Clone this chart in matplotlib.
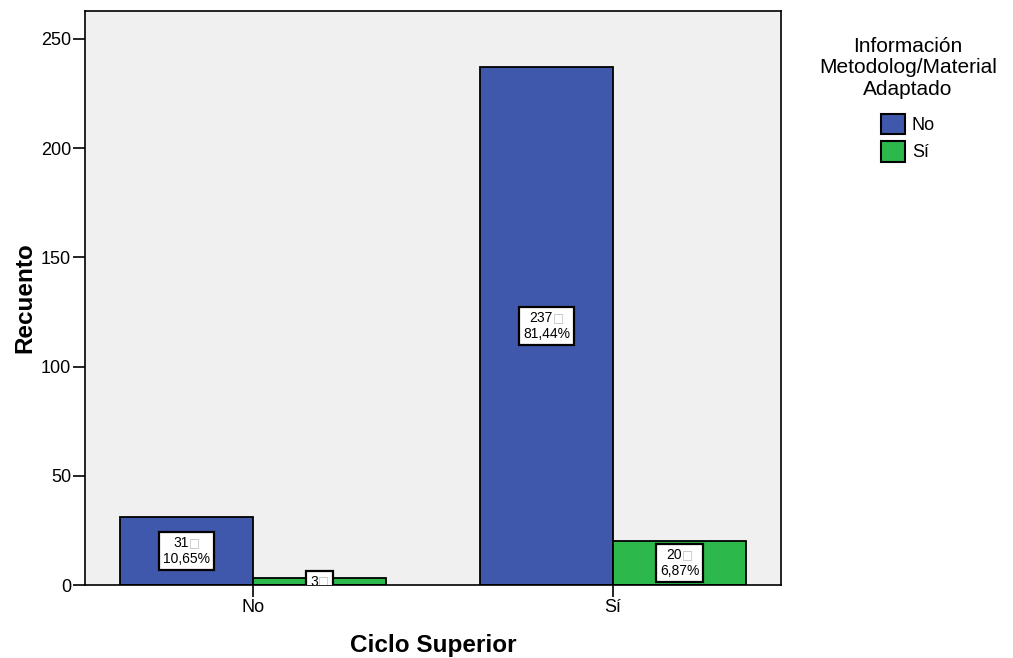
import matplotlib
matplotlib.use("Agg")
import matplotlib.pyplot as plt
from matplotlib.patches import Patch
from matplotlib.offsetbox import AnnotationBbox, TextArea, HPacker, VPacker
import numpy as np

plt.rcParams['font.family'] = ['Liberation Sans', 'DejaVu Sans']

categories = ["No", "Sí"]
series_names = ["No", "Sí"]
counts_no = [31, 237]
counts_si = [3, 20]
pct_no = ["10,65%", "81,44%"]
pct_si = ["", "6,87%"]
yticks = [0, 50, 100, 150, 200, 250]

colors = ["#3F58AB", "#2DB84B"]

fig = plt.figure(figsize=(10.13, 6.58), dpi=100)
ax = fig.add_axes([85 / 1013, 1 - 585 / 658, (781 - 85) / 1013, (585 - 11) / 658])
ax.set_facecolor("#F0F0F0")

x = np.arange(len(categories))
w = 0.37
bars_no = ax.bar(x - w / 2, counts_no, w, color=colors[0], edgecolor="black", linewidth=1.3)
bars_si = ax.bar(x + w / 2, counts_si, w, color=colors[1], edgecolor="black", linewidth=1.3)

ax.set_xlim(-0.4667, 1.4667)
ax.set_ylim(0, 262.8)
ax.set_xticks(x)
ax.set_xticklabels(categories, fontsize=13)
ax.set_yticks(yticks)
ax.set_yticklabels([str(t) for t in yticks], fontsize=13)
ax.tick_params(axis="both", direction="out", length=8.5, width=1.2, color="black", pad=1.5)
for s in ax.spines.values():
    s.set_linewidth(1.2)

ax.set_ylabel("Recuento", fontsize=17.5, fontweight="bold", labelpad=3)
ax.set_xlabel("Ciclo Superior", fontsize=17.5, fontweight="bold", labelpad=13)


def label(bar, count, pct):
    cx = bar.get_x() + bar.get_width() / 2
    cy = bar.get_height() / 2
    num = TextArea(str(count), textprops=dict(fontsize=10, color="black"))
    sq = TextArea("\u25a1", textprops=dict(fontsize=8.5, color="#BBBBBB",
                                          family=["DejaVu Sans"]))
    row = HPacker(children=[num, sq], pad=0, sep=0, align="center")
    rows = [row]
    if pct:
        rows.append(TextArea(pct, textprops=dict(fontsize=10, color="black")))
    content = VPacker(children=rows, pad=0, sep=1, align="center")
    ab = AnnotationBbox(content, (cx, cy), xycoords="data", box_alignment=(0.5, 0.5),
                        frameon=True, pad=0.3,
                        bboxprops=dict(facecolor="white", edgecolor="black",
                                       linewidth=1.6),
                        zorder=5)
    ax.add_artist(ab)
    ab.patch.set_clip_path(ax.patch)
    for child in (num, sq) + tuple(rows[1:]):
        child._text.set_clip_path(ax.patch)
    return ab


for b, c, p in zip(bars_no, counts_no, pct_no):
    label(b, c, p)
for b, c, p in zip(bars_si, counts_si, pct_si):
    label(b, c, p)

handles = [Patch(facecolor=colors[i], edgecolor="black", linewidth=1.5) for i in range(2)]
leg = fig.legend(handles, series_names, title="Información\nMetodolog/Material\nAdaptado",
                 loc="upper center", bbox_to_anchor=(908 / 1013, 1 - 28 / 658),
                 frameon=False, fontsize=13, title_fontsize=15, borderpad=0,
                 handlelength=1.3, handleheight=1.35, handletextpad=0.4,
                 labelspacing=0.4)
leg.get_title().set_multialignment("center")
leg.get_title().set_linespacing(1.15)
leg._legend_box.align = "center"
leg._legend_box.sep = 11

fig.savefig("out.png", dpi=100)
